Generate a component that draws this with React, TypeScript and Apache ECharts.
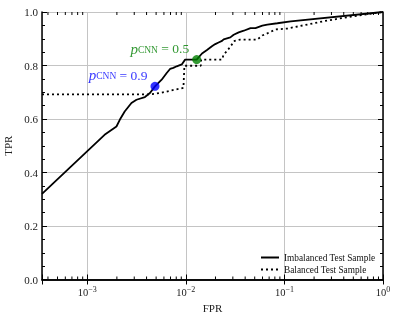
import React, { useEffect, useRef } from "react";
import * as echarts from "echarts";

// ---- data ----
const xMin = 3.48e-4;
const xMax = 1;

const imbalancedFPR = [3.48e-4, 1.5e-3, 1.98e-3, 2.14e-3, 2.4e-3, 2.81e-3, 3.16e-3, 3.85e-3, 4.33e-3, 4.87e-3, 5.69e-3, 6.4e-3, 6.92e-3, 7.47e-3, 8.09e-3, 9.1e-3, 9.84e-3, 1.29e-2, 1.46e-2, 1.64e-2, 1.84e-2, 1.99e-2, 2.15e-2, 2.33e-2, 2.42e-2, 2.83e-2, 3.06e-2, 3.44e-2, 3.87e-2, 4.53e-2, 5.09e-2, 5.97e-2, 6.71e-2, 8.49e-2, 0.116, 1.0];
const imbalancedTPR = [0.32, 0.541, 0.572, 0.597, 0.628, 0.66, 0.672, 0.682, 0.697, 0.722, 0.747, 0.772, 0.787, 0.791, 0.797, 0.804, 0.822, 0.822, 0.845, 0.858, 0.872, 0.88, 0.886, 0.892, 0.898, 0.905, 0.915, 0.924, 0.93, 0.94, 0.94, 0.949, 0.953, 0.958, 0.965, 1.0];

const balancedFPR = [3.48e-4, 4.33e-3, 5.47e-3, 7.19e-3, 9.46e-3, 9.68e-3, 1.42e-2, 1.43e-2, 2.33e-2, 2.42e-2, 2.62e-2, 2.94e-2, 3.06e-2, 3.58e-2, 5.3e-2, 5.97e-2, 6.97e-2, 8.15e-2, 0.107, 0.254, 0.475, 1.0];
const balancedTPR = [0.692, 0.692, 0.697, 0.707, 0.716, 0.799, 0.799, 0.822, 0.822, 0.841, 0.854, 0.879, 0.891, 0.897, 0.897, 0.912, 0.923, 0.935, 0.938, 0.966, 0.983, 1.0];

const pointFPR = [4.87e-3, 1.29e-2];
const pointTPR = [0.722, 0.822];
const pointThreshold = ["0.9", "0.5"];
const pointColors = ["#0000ff", "#008000"];

const seriesNames = ["Imbalanced Test Sample", "Balanced Test Sample"];

const xMinorTicks = [
  4e-4, 5e-4, 6e-4, 7e-4, 8e-4, 9e-4,
  2e-3, 3e-3, 4e-3, 5e-3, 6e-3, 7e-3, 8e-3, 9e-3,
  2e-2, 3e-2, 4e-2, 5e-2, 6e-2, 7e-2, 8e-2, 9e-2,
  0.2, 0.3, 0.4, 0.5, 0.6, 0.7, 0.8, 0.9,
];

const FONT = "'Liberation Serif', 'DejaVu Serif', serif";

function pow10Label(v: number): string {
  const l = Math.log10(v);
  const r = Math.round(l);
  if (Math.abs(l - r) > 1e-6) return "";
  const exp = r < 0 ? "\u2212" + Math.abs(r) : String(r);
  return "{b|10}{s|" + exp + "}";
}

export default function App() {
  const ref = useRef<HTMLDivElement>(null);
  useEffect(() => {
    if (!ref.current) return;
    const chart = echarts.init(ref.current, undefined, { renderer: "svg" });
    const axisLine = { show: true, lineStyle: { color: "#000", width: 1.5 } };
    const option: any = {
      animation: false,
      grid: { left: 42, right: 15, top: 12, bottom: 41.5, containLabel: false, outerBoundsMode: "none" },
      legend: {
        data: seriesNames,
        orient: "vertical",
        left: 260,
        top: 253,
        padding: 0,
        itemWidth: 18,
        itemHeight: 8,
        itemGap: 3,
        itemStyle: { opacity: 0 },
        textStyle: { fontFamily: FONT, fontSize: 9.3, color: "#111" },
      },
      xAxis: [
        {
          type: "log",
          min: xMin,
          max: xMax,
          position: "bottom",
          axisLine,
          axisTick: { show: true, inside: true, length: 5, lineStyle: { color: "#000", width: 1 } },
          splitLine: { show: true, lineStyle: { color: "#c4c4c4", width: 1 } },
          axisLabel: {
            margin: 6,
            formatter: pow10Label,
            rich: {
              b: { fontFamily: FONT, fontSize: 10.5, color: "#222" },
              s: { fontFamily: FONT, fontSize: 8, color: "#222", padding: [0, 0, 6, 0] },
            },
          },
          name: "FPR",
          nameLocation: "middle",
          nameGap: 18,
          nameTextStyle: { fontFamily: FONT, fontSize: 11, color: "#222" },
        },
        {
          type: "log",
          min: xMin,
          max: xMax,
          position: "top",
          axisLine,
          axisTick: { show: true, inside: true, length: 5, lineStyle: { color: "#000", width: 1 } },
          splitLine: { show: false },
          axisLabel: { show: false },
        },
      ],
      yAxis: [
        {
          type: "value",
          min: 0,
          max: 1,
          interval: 0.2,
          position: "left",
          axisLine,
          axisTick: { show: true, inside: true, length: 5, lineStyle: { color: "#000", width: 1 } },
          minorTick: { show: true, splitNumber: 4, length: 3, lineStyle: { color: "#000", width: 1 } },
          splitLine: { show: true, lineStyle: { color: "#c4c4c4", width: 1 } },
          axisLabel: {
            margin: 4,
            formatter: (v: number) => v.toFixed(1),
            fontFamily: FONT,
            fontSize: 11,
            color: "#222",
          },
          name: "TPR",
          nameLocation: "middle",
          nameGap: 18,
          nameTextStyle: { fontFamily: FONT, fontSize: 11, color: "#222" },
        },
        {
          type: "value",
          min: 0,
          max: 1,
          interval: 0.2,
          position: "right",
          axisLine,
          axisTick: { show: true, inside: true, length: 5, lineStyle: { color: "#000", width: 1 } },
          minorTick: { show: true, splitNumber: 4, length: 3, lineStyle: { color: "#000", width: 1 } },
          splitLine: { show: false },
          axisLabel: { show: false },
        },
      ],
      series: [
        {
          name: seriesNames[0],
          type: "line",
          data: imbalancedFPR.map((x, i) => [x, imbalancedTPR[i]]),
          symbol: "none",
          lineStyle: { color: "#000", width: 1.8 },
          itemStyle: { color: "#000" },
          z: 3,
        },
        {
          name: seriesNames[1],
          type: "line",
          data: balancedFPR.map((x, i) => [x, balancedTPR[i]]),
          symbol: "none",
          lineStyle: { color: "#000", width: 1.8, type: [2, 3] },
          itemStyle: { color: "#000" },
          z: 2,
        },
        {
          name: "thresholds",
          type: "scatter",
          symbolSize: 9,
          z: 5,
          data: pointFPR.map((x, i) => ({
            value: [x, pointTPR[i]],
            itemStyle: { color: pointColors[i] },
            label: {
              show: true,
              position: "left",
              distance: 3,
              offset: [0, -10],
              formatter: "{p|p}{c|CNN}{e| = " + pointThreshold[i] + "}",
              rich: {
                p: { fontFamily: FONT, fontStyle: "italic", fontSize: 15, color: pointColors[i], padding: [0, 0, 2, 0] },
                c: { fontFamily: FONT, fontSize: 9.5, color: pointColors[i] },
                e: { fontFamily: FONT, fontSize: 13.5, color: pointColors[i], padding: [0, 0, 2, 0] },
              },
            },
          })),
        },
        {
          name: "minorTicks",
          type: "custom",
          silent: true,
          clip: false,
          data: xMinorTicks.map((v) => [v, 0]),
          encode: { x: 0, y: 1 },
          renderItem: (params: any, api: any) => {
            const x = api.value(0);
            const pb = api.coord([x, 0]);
            const pt = api.coord([x, 1]);
            const st = { stroke: "#000", lineWidth: 1 };
            return {
              type: "group",
              children: [
                { type: "line", shape: { x1: pb[0], y1: pb[1], x2: pb[0], y2: pb[1] - 3 }, style: st },
                { type: "line", shape: { x1: pt[0], y1: pt[1], x2: pt[0], y2: pt[1] + 3 }, style: st },
              ],
            };
          },
        },
      ],
    };
    chart.setOption(option);
    return () => chart.dispose();
  }, []);
  return <div ref={ref} style={{ position: "fixed", left: 0, top: 0, width: 398, height: 321 }} />;
}
